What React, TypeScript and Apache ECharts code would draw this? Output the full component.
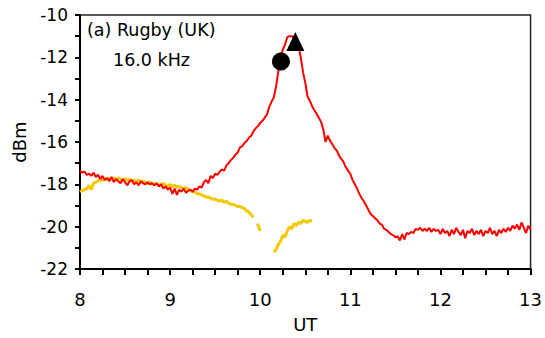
import React, { useEffect, useRef } from "react";
import * as echarts from "echarts";

// Time axis (UT) for red series: 8.000 .. 13.000 step 0.025
const RED_START = 8;
const RED_STEP = 0.025;
const redValues: number[] = [
  -17.35, -17.45, -17.4, -17.55, -17.5, -17.6, -17.45, -17.65, -17.55, -17.75,
  -17.6, -17.8, -17.7, -17.85, -17.65, -17.9, -17.75, -17.85, -17.95, -17.75,
  -17.9, -18.05, -17.85, -17.8, -18.0, -17.9, -18.05, -17.85, -17.95, -18.0,
  -17.9, -18.0, -17.95, -18.05, -17.95, -18.1, -18.0, -18.2, -18.1, -18.25,
  -18.15, -18.45, -18.2, -18.5, -18.25, -18.35, -18.2, -18.4, -18.3, -18.25,
  -18.35, -18.2, -18.25, -18.1, -18.15, -17.9, -17.8, -17.95, -17.6, -17.7,
  -17.5, -17.55, -17.4, -17.3, -17.35, -17.1, -17.0, -16.85, -16.75, -16.6,
  -16.5, -16.25, -16.2, -16.05, -15.95, -15.8, -15.7, -15.5, -15.35, -15.25,
  -15.1, -15.0, -14.85, -14.7, -14.35, -14.1, -13.9, -13.4, -12.7, -12.0,
  -11.65, -11.4, -11.05, -11.0, -11.0, -11.1, -11.2, -11.5, -12.0, -12.7,
  -13.2, -13.85, -14.05, -14.3, -14.5, -14.65, -14.85, -15.05, -15.4, -16.0,
  -15.7, -15.95, -16.1, -16.3, -16.4, -16.65, -16.8, -16.95, -17.2, -17.35,
  -17.5, -17.8, -18.0, -18.2, -18.45, -18.65, -18.8, -19.0, -19.2, -19.4,
  -19.5, -19.6, -19.7, -19.85, -19.9, -20.1, -20.15, -20.25, -20.35, -20.4,
  -20.5, -20.45, -20.65, -20.35, -20.6, -20.3, -20.35, -20.25, -20.3, -20.1,
  -20.15, -20.05, -20.2, -20.1, -20.2, -20.05, -20.25, -20.1, -20.2, -20.15,
  -20.35, -20.1, -20.3, -20.2, -20.45, -20.15, -20.35, -20.05, -20.25, -20.4,
  -20.15, -20.55, -20.2, -20.3, -20.1, -20.4, -20.2, -20.35, -20.15, -20.45,
  -20.2, -20.3, -20.05, -20.35, -20.2, -20.45, -20.15, -20.3, -20.1, -20.25,
  -20.05, -20.2, -19.95, -20.1, -19.9, -20.15, -19.8, -20.05, -20.3, -19.95,
  -20.15,
];

// Yellow series, first part: UT 8.000 .. 9.925 step 0.025
const YEL1_START = 8;
const YEL_STEP = 0.025;
const yellow1: number[] = [
  -18.35, -18.3, -18.25, -18.2, -18.05, -18.25, -17.95, -17.9, -17.85, -17.8,
  -17.8, -17.75, -17.75, -17.7, -17.75, -17.7, -17.75, -17.7, -17.75, -17.8,
  -17.75, -17.8, -17.75, -17.85, -17.8, -17.85, -17.8, -17.9, -17.85, -17.9,
  -17.95, -17.9, -17.95, -18.0, -17.95, -18.05, -18.0, -17.95, -18.05, -18.1,
  -18.0, -18.1, -18.05, -18.15, -18.1, -18.15, -18.2, -18.15, -18.25, -18.3,
  -18.35, -18.35, -18.45, -18.45, -18.5, -18.55, -18.6, -18.6, -18.65, -18.7,
  -18.7, -18.75, -18.8, -18.75, -18.85, -18.8, -18.9, -18.95, -18.95, -19.0,
  -19.05, -19.05, -19.1, -19.15, -19.25, -19.3, -19.45, -19.55,
];
// Yellow short dash near 10.0 UT
const yellowDash: [number, number][] = [
  [9.97, -19.85],
  [10.0, -20.2],
];
// Yellow second part: UT 10.15 .. 10.575 step 0.025
const YEL2_START = 10.15;
const yellow2: number[] = [
  -21.2, -21.1, -20.85, -20.7, -20.4, -20.5, -20.2, -20.0, -20.1, -19.85,
  -19.95, -19.8, -19.85, -19.7, -19.75, -19.8, -19.7, -19.75,
];

const circlePoint: [number, number] = [10.23, -12.2];
const trianglePoint: [number, number] = [10.39, -11.25];

const X_MIN = 8;
const X_MAX = 13;
const Y_MIN = -22;
const Y_MAX = -10;

const FONT = "DejaVu Sans";

function toPairs(start: number, step: number, vals: number[]): [number, number][] {
  return vals.map((v, i) => [+(start + i * step).toFixed(3), v]);
}

export default function App() {
  const ref = useRef<HTMLDivElement>(null);
  useEffect(() => {
    document.body.style.margin = "0";
    if (!ref.current) return;
    const chart = echarts.init(ref.current, undefined, { renderer: "svg" });
    const yellowColor = "#F5C800";
    chart.setOption({
      animation: false,
      backgroundColor: "#ffffff",
      grid: {
        left: 80,
        right: 12,
        top: 15,
        bottom: 66,
        show: true,
        borderColor: "#222",
        borderWidth: 1.5,
      },
      xAxis: {
        type: "value",
        min: X_MIN,
        max: X_MAX,
        interval: 1,
        name: "UT",
        nameLocation: "middle",
        nameGap: 46,
        nameTextStyle: { fontFamily: FONT, fontSize: 18, color: "#000" },
        axisLine: { show: true, onZero: false, lineStyle: { color: "#000", width: 2 } },
        axisTick: { show: true, inside: false, length: 6, lineStyle: { color: "#000", width: 2 } },
        minorTick: { show: true, splitNumber: 4, length: 6, lineStyle: { color: "#000", width: 2 } },
        splitLine: { show: false },
        axisLabel: { fontFamily: FONT, fontSize: 18, color: "#000", margin: 21 },
      },
      yAxis: {
        type: "value",
        min: Y_MIN,
        max: Y_MAX,
        interval: 2,
        name: "dBm",
        nameLocation: "middle",
        nameGap: 52,
        nameTextStyle: { fontFamily: FONT, fontSize: 18, color: "#000" },
        axisLine: { show: true, onZero: false, lineStyle: { color: "#000", width: 2 } },
        axisTick: { show: true, inside: false, length: 5, lineStyle: { color: "#000", width: 2 } },
        minorTick: { show: true, splitNumber: 2, length: 5, lineStyle: { color: "#000", width: 2 } },
        splitLine: { show: false },
        axisLabel: { fontFamily: FONT, fontSize: 17, color: "#000", margin: 12 },
      },
      graphic: [
        {
          type: "text",
          left: 87,
          top: 21,
          style: { text: "(a) Rugby (UK)", font: `17.5px '${FONT}'`, fill: "#000" },
        },
        {
          type: "text",
          left: 113,
          top: 51,
          style: { text: "16.0 kHz", font: `17.5px '${FONT}'`, fill: "#000" },
        },
      ],
      series: [
        {
          type: "line",
          data: toPairs(YEL1_START, YEL_STEP, yellow1),
          showSymbol: false,
          lineStyle: { color: yellowColor, width: 3 },
          z: 2,
        },
        {
          type: "line",
          data: yellowDash,
          showSymbol: false,
          lineStyle: { color: yellowColor, width: 3 },
          z: 2,
        },
        {
          type: "line",
          data: toPairs(YEL2_START, YEL_STEP, yellow2),
          showSymbol: false,
          lineStyle: { color: yellowColor, width: 3 },
          z: 2,
        },
        {
          type: "line",
          data: toPairs(RED_START, RED_STEP, redValues),
          showSymbol: false,
          lineStyle: { color: "#FF0000", width: 2 },
          z: 3,
        },
        {
          type: "scatter",
          data: [circlePoint],
          symbol: "circle",
          symbolSize: 18,
          itemStyle: { color: "#000", opacity: 1 },
          z: 4,
        },
        {
          type: "scatter",
          data: [trianglePoint],
          symbol: "triangle",
          symbolSize: [18, 19],
          itemStyle: { color: "#000", opacity: 1 },
          z: 4,
        },
      ],
    });
    return () => chart.dispose();
  }, []);
  return <div ref={ref} style={{ width: 545, height: 338 }} />;
}
